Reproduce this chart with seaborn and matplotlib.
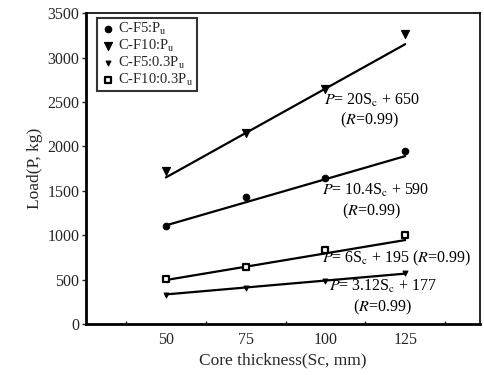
import matplotlib
matplotlib.use("Agg")
import matplotlib.pyplot as plt
import seaborn as sns
import pandas as pd
import numpy as np
from matplotlib.ticker import MultipleLocator

sns.set_theme(style="white")
plt.rcParams['font.family'] = ['Liberation Serif', 'DejaVu Serif']
plt.rcParams['mathtext.fontset'] = 'stix'

thickness = [50, 75, 100, 125]
series_names = ["C-F5:P$_{\\rm u}$", "C-F10:P$_{\\rm u}$", "C-F5:0.3P$_{\\rm u}$", "C-F10:0.3P$_{\\rm u}$"]
cf5_pu = [1100, 1430, 1645, 1945]
cf10_pu = [1720, 2150, 2650, 3260]
cf5_03pu = [330, 405, 485, 570]
cf10_03pu = [510, 645, 830, 1000]

fit_slopes = [10.4, 20, 3.12, 6]
fit_intercepts = [590, 650, 177, 195]
fit_range = [50, 125]

eq_labels = [
    "$\\it{P}$= 10.4S$_{\\rm c}$ + 590\n     ($\\it{R}$=0.99)",
    "$\\it{P}$= 20S$_{\\rm c}$ + 650\n    ($\\it{R}$=0.99)",
    "$\\it{P}$= 3.12S$_{\\rm c}$ + 177\n      ($\\it{R}$=0.99)",
    "$\\it{P}$= 6S$_{\\rm c}$ + 195 ($\\it{R}$=0.99)",
]

values = [cf5_pu, cf10_pu, cf5_03pu, cf10_03pu]
df = pd.DataFrame({
    "x": thickness * 4,
    "y": sum(values, []),
    "series": sum([[n] * 4 for n in series_names], []),
})
fit_df = pd.DataFrame({
    "x": fit_range * 4,
    "y": [s * x + b for s, b in zip(fit_slopes, fit_intercepts) for x in fit_range],
    "series": sum([[n] * 2 for n in series_names], []),
})

fig = plt.figure(figsize=(4.84, 3.75), dpi=100)
ax = fig.add_axes([0.178, 0.136, 0.814, 0.829])

sns.lineplot(data=fit_df, x="x", y="y", units="series", estimator=None,
             color="black", lw=1.6, ax=ax, legend=False)

markers = {series_names[0]: "o", series_names[1]: "v", series_names[2]: "v", series_names[3]: "s"}
sizes = {series_names[0]: 22, series_names[1]: 34, series_names[2]: 12, series_names[3]: 16}
for name in series_names:
    sub = df[df.series == name]
    face = "white" if markers[name] == "s" else "black"
    lw = 1.6 if markers[name] == "s" else 0.8
    sns.scatterplot(data=sub, x="x", y="y", marker=markers[name], s=sizes[name],
                    color=face, edgecolor="black", linewidth=lw, ax=ax, label=name, zorder=3)

ax.set_xlim(25, 148.5)
ax.set_ylim(0, 3500)
ax.set_xticks([50, 75, 100, 125])
ax.xaxis.set_minor_locator(MultipleLocator(12.5))
ax.yaxis.set_major_locator(MultipleLocator(500))
ax.tick_params(axis="x", which="major", direction="in", length=4, width=1.2, labelsize=11.5, pad=6)
ax.tick_params(axis="x", which="minor", direction="in", length=2, width=1, bottom=True)
ax.tick_params(axis="y", which="major", direction="out", length=3, width=1, labelsize=11.5, left=True, pad=2)
ax.set_xlabel("Core thickness(Sc, mm)", fontsize=12.5, labelpad=3)
ax.set_ylabel("Load(P, kg)", fontsize=12.5, labelpad=3)

for side in ["left", "bottom"]:
    ax.spines[side].set_linewidth(2)
    ax.spines[side].set_color("black")
for side in ["top", "right"]:
    ax.spines[side].set_linewidth(1.2)
    ax.spines[side].set_color("black")

txt_kw = dict(fontsize=11.5, color="black", ha="left", va="center")
ax.text(99.5, 2400, eq_labels[1], **txt_kw, linespacing=1.15)
ax.text(99, 1380, eq_labels[0], **txt_kw, linespacing=1.15)
ax.text(99, 735, eq_labels[3], **txt_kw)
ax.text(101, 300, eq_labels[2], **txt_kw, linespacing=1.15)

leg = ax.legend(loc="upper left", bbox_to_anchor=(0.02, 0.995), frameon=True, fontsize=10.5,
                handletextpad=0.2, borderpad=0.25, labelspacing=0.05, handlelength=1.0,
                borderaxespad=0.2, fancybox=False)
leg.get_frame().set_edgecolor("black")
leg.get_frame().set_linewidth(1.5)

fig.savefig("out.png", dpi=100)
